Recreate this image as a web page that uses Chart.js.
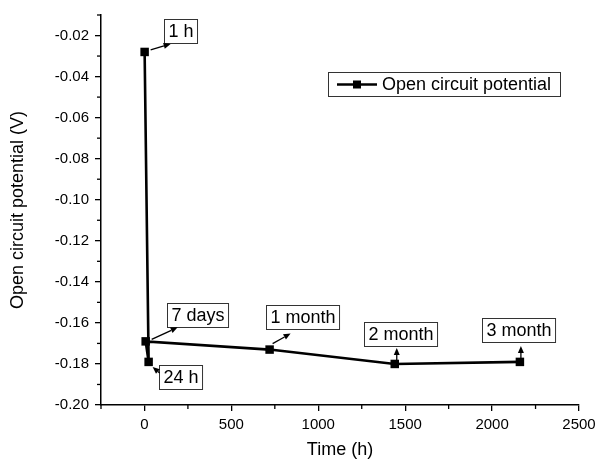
<!DOCTYPE html>
<html>
<head>
<meta charset="utf-8">
<script src="https://cdn.jsdelivr.net/npm/chart.js@4"></script>
<style>
  html, body { margin: 0; padding: 0; background: #fff; }
  #wrap { width: 597px; height: 461px; }
</style>
</head>
<body>
<div id="wrap"><canvas id="ocpChart" width="597" height="461"></canvas></div>
<script>
// data
const timeHours = [1, 24, 7, 720, 1440, 2160];
const potentialV = [-0.028, -0.179, -0.169, -0.173, -0.180, -0.179];
const pointLabels = ['1 h', '24 h', '7 days', '1 month', '2 month', '3 month'];
const seriesName = 'Open circuit potential';
const xTitle = 'Time (h)';
const yTitle = 'Open circuit potential (V)';

const FONT = '"Liberation Sans", Arial, sans-serif';

// where each label box / arrow sits relative to its point (px)
const labelLayout = [
  { box: [19, -33], tail: [6, -2], head: [26, -8] },
  { box: [10, 3], tail: [11, 11], head: [4, 5] },
  { box: [21, -38], tail: [6, -2], head: [32, -14] },
  { box: [-4, -45], tail: [3, -6], head: [21, -16] },
  { box: [-31, -42], tail: [2, -4], head: [2, -16] },
  { box: [-38, -44], tail: [1, -4], head: [1, -16] }
];

const isMajorX = v => Math.round(v) % 500 === 0;
const isMajorY = v => Math.round(Math.abs(v) * 100) % 2 === 0;

function arrow(ctx, x1, y1, x2, y2) {
  const a = Math.atan2(y2 - y1, x2 - x1);
  const len = 7, half = 3;
  const bx = x2 - len * Math.cos(a), by = y2 - len * Math.sin(a);
  ctx.beginPath();
  ctx.moveTo(x1, y1);
  ctx.lineTo(bx, by);
  ctx.stroke();
  ctx.beginPath();
  ctx.moveTo(x2, y2);
  ctx.lineTo(bx + half * Math.sin(a), by - half * Math.cos(a));
  ctx.lineTo(bx - half * Math.sin(a), by + half * Math.cos(a));
  ctx.closePath();
  ctx.fill();
}

const extrasPlugin = {
  id: 'extras',
  afterDraw(chart) {
    const ctx = chart.ctx;
    const xs = chart.scales.x, ys = chart.scales.y;
    ctx.save();
    ctx.strokeStyle = '#000';
    ctx.fillStyle = '#000';
    ctx.lineWidth = 1.3;

    // minor ticks (shorter than the major ones)
    xs.ticks.forEach(t => {
      if (isMajorX(t.value)) return;
      const px = xs.getPixelForValue(t.value);
      ctx.beginPath();
      ctx.moveTo(px, xs.top);
      ctx.lineTo(px, xs.top + 4);
      ctx.stroke();
    });
    ys.ticks.forEach(t => {
      if (isMajorY(t.value)) return;
      const py = ys.getPixelForValue(t.value);
      ctx.beginPath();
      ctx.moveTo(ys.right, py);
      ctx.lineTo(ys.right - 4, py);
      ctx.stroke();
    });

    // point labels with arrows
    ctx.font = '18px ' + FONT;
    ctx.textBaseline = 'middle';
    const meta = chart.getDatasetMeta(0);
    pointLabels.forEach((txt, i) => {
      const p = meta.data[i];
      const L = labelLayout[i];
      const w = ctx.measureText(txt).width + 8;
      const bx = Math.round(p.x + L.box[0]) + 0.5, by = Math.round(p.y + L.box[1]) + 0.5;
      ctx.fillStyle = '#fff';
      ctx.fillRect(bx, by, w, 24);
      ctx.strokeStyle = '#333';
      ctx.lineWidth = 1;
      ctx.strokeRect(bx, by, w, 24);
      ctx.fillStyle = '#000';
      ctx.fillText(txt, bx + 4, by + 12.5);
      ctx.strokeStyle = '#000';
      ctx.lineWidth = 1.3;
      arrow(ctx, p.x + L.tail[0], p.y + L.tail[1], p.x + L.head[0], p.y + L.head[1]);
    });

    // legend box
    const lx = 328.5, ly = 72.5, lw = 232, lh = 24;
    ctx.strokeStyle = '#333';
    ctx.lineWidth = 1;
    ctx.strokeRect(lx, ly, lw, lh);
    ctx.strokeStyle = '#000';
    ctx.lineWidth = 2.5;
    ctx.beginPath();
    ctx.moveTo(337, ly + 12);
    ctx.lineTo(377, ly + 12);
    ctx.stroke();
    ctx.fillRect(353, ly + 8, 8, 8);
    ctx.fillText(seriesName, 382, ly + 12.5);
    ctx.restore();
  }
};

new Chart(document.getElementById('ocpChart'), {
  type: 'scatter',
  data: {
    datasets: [{
      label: seriesName,
      data: timeHours.map((t, i) => ({ x: t, y: potentialV[i] })),
      showLine: true,
      borderColor: '#000',
      backgroundColor: '#000',
      borderWidth: 2.6,
      pointStyle: 'rect',
      pointRadius: 6,
      pointHoverRadius: 6,
      pointBorderWidth: 0,
      tension: 0
    }]
  },
  options: {
    responsive: false,
    animation: false,
    devicePixelRatio: 1,
    layout: { padding: { top: 11, right: 18, left: 0, bottom: 0 } },
    plugins: {
      legend: { display: false },
      tooltip: { enabled: false }
    },
    scales: {
      x: {
        type: 'linear',
        min: -250,
        max: 2500,
        afterFit: s => { s.height = 56; s.paddingRight = 0; },
        afterBuildTicks: s => {
          s.ticks = [];
          for (let v = -250; v <= 2500; v += 250) s.ticks.push({ value: v });
        },
        border: { display: true, color: '#000', width: 1.5 },
        grid: {
          drawOnChartArea: false,
          tickLength: 6,
          lineWidth: 1.3,
          color: c => (c.tick && isMajorX(c.tick.value) ? '#000' : 'rgba(0,0,0,0)')
        },
        ticks: {
          autoSkip: false,
          maxRotation: 0,
          padding: 5,
          color: '#000',
          font: { family: FONT, size: 15 },
          callback: v => (isMajorX(v) ? String(v) : '')
        },
        title: {
          display: true,
          text: xTitle,
          color: '#000',
          font: { family: FONT, size: 18 },
          padding: { top: 0, bottom: 0 }
        }
      },
      y: {
        type: 'linear',
        min: -0.20,
        max: -0.01,
        afterFit: s => { s.width = 101; },
        afterBuildTicks: s => {
          s.ticks = [];
          for (let k = 20; k >= 1; k--) s.ticks.push({ value: -k / 100 });
        },
        border: { display: true, color: '#000', width: 1.5 },
        grid: {
          drawOnChartArea: false,
          tickLength: 6,
          lineWidth: 1.3,
          color: c => (c.tick && isMajorY(c.tick.value) ? '#000' : 'rgba(0,0,0,0)')
        },
        ticks: {
          autoSkip: false,
          padding: 6,
          color: '#000',
          font: { family: FONT, size: 15 },
          callback: v => (isMajorY(v) ? v.toFixed(2) : '')
        },
        title: {
          display: true,
          text: yTitle,
          color: '#000',
          font: { family: FONT, size: 18 },
          padding: { top: 7, bottom: 0 }
        }
      }
    }
  },
  plugins: [extrasPlugin]
});
</script>
</body>
</html>
